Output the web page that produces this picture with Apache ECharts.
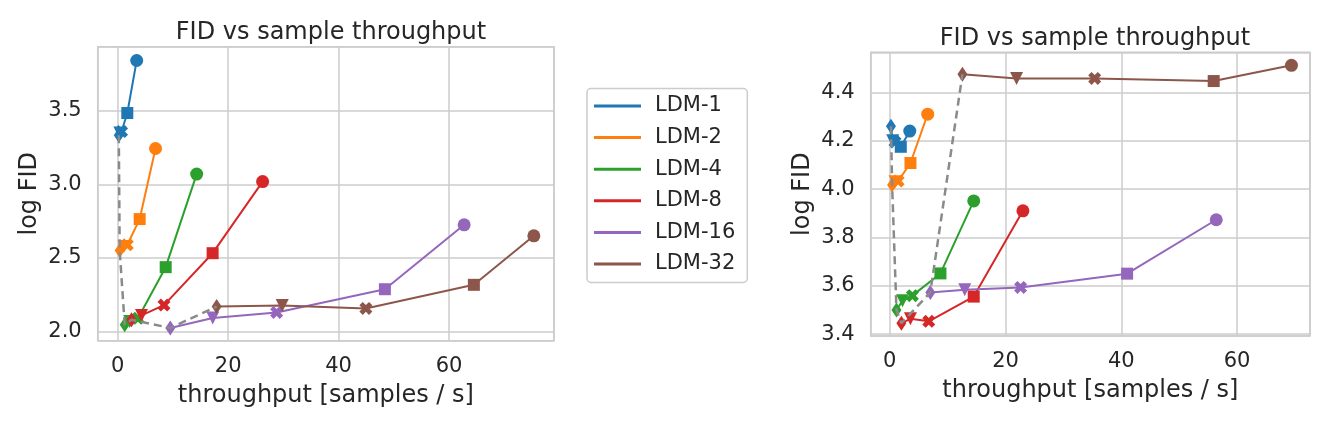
<!DOCTYPE html>
<html><head><meta charset="utf-8">
<script src="https://cdn.jsdelivr.net/npm/echarts@6/dist/echarts.min.js"></script>
<style>html,body{margin:0;padding:0;background:#fff}#c{width:1340px;height:427px}</style>
</head><body><div id="c"></div>
<script>
// ---- data ----
const modelNames = ['LDM-1','LDM-2','LDM-4','LDM-8','LDM-16','LDM-32'];
const modelColors = ['#1f77b4','#ff7f0e','#2ca02c','#d62728','#9467bd','#8c564b'];
// marker per sampling configuration (same order in every model's arrays)
const pointMarkers = ['circle','square','x','triangleDown','thinDiamond'];

// left panel: throughput [samples/s] and log FID per model
const leftThroughput = [
  [3.44, 1.74, 0.7, 0.4, 0.2],
  [6.85, 3.98, 1.74, 1.14, 0.36],
  [14.3, 8.69, 3.67, 2.17, 1.27],
  [26.24, 17.19, 8.38, 4.31, 2.5],
  [62.73, 48.38, 28.78, 17.21, 9.52],
  [75.35, 64.49, 44.94, 29.79, 17.92]
];
const leftLogFid = [
  [3.843, 3.486, 3.36, 3.35, 3.335],
  [3.245, 2.765, 2.59, 2.578, 2.551],
  [3.071, 2.438, 2.09, 2.068, 2.046],
  [3.02, 2.533, 2.18, 2.11, 2.08],
  [2.726, 2.288, 2.13, 2.093, 2.025],
  [2.651, 2.318, 2.157, 2.177, 2.17]
];

// right panel
const rightThroughput = [
  [3.45, 1.9, 0.9, 0.5, 0.2],
  [6.55, 3.57, 1.44, 0.9, 0.4],
  [14.5, 8.75, 3.9, 2.2, 1.15],
  [23.0, 14.5, 6.73, 3.57, 2.0],
  [56.4, 41.0, 22.6, 12.95, 7.0],
  [69.4, 55.96, 35.4, 21.9, 12.55]
];
const rightLogFid = [
  [4.24, 4.175, 4.195, 4.2, 4.26],
  [4.31, 4.108, 4.033, 4.03, 4.017],
  [3.951, 3.651, 3.559, 3.538, 3.5],
  [3.91, 3.555, 3.453, 3.463, 3.445],
  [3.873, 3.65, 3.593, 3.583, 3.572],
  [4.512, 4.447, 4.458, 4.458, 4.475]
];

const chartTitle = 'FID vs sample throughput';
const xAxisName = 'throughput [samples / s]';
const yAxisName = 'log FID';

// ---- styling ----
const symbolDefs = {
  circle: {symbol: 'circle', size: 13},
  square: {symbol: 'rect', size: 12},
  x: {symbol: 'path://M0,2.6 L2.6,0 L5,2.4 L7.4,0 L10,2.6 L7.6,5 L10,7.4 L7.4,10 L5,7.6 L2.6,10 L0,7.4 L2.4,5 Z', size: 13},
  triangleDown: {symbol: 'path://M0,0 L10,0 L5,10 Z', size: 13},
  thinDiamond: {symbol: 'diamond', size: [10, 15]}
};
const TXT = '#262626', GRID = '#cccccc', FONT = 'DejaVu Sans';

function isMult(v, step) { return Math.abs(v / step - Math.round(v / step)) < 1e-6; }

const series = [];
function buildPanel(xs, ys, gi) {
  modelNames.forEach((n, i) => {
    series.push({
      name: n, type: 'line', xAxisIndex: gi, yAxisIndex: gi,
      color: modelColors[i],
      lineStyle: {width: 2, color: modelColors[i]},
      itemStyle: {color: modelColors[i], borderWidth: 0},
      data: xs[i].map((x, j) => {
        const d = symbolDefs[pointMarkers[j]];
        return {value: [x, ys[i][j]], symbol: d.symbol, symbolSize: d.size};
      }),
      showSymbol: true, z: 3, silent: true
    });
  });
  series.push({
    type: 'line', name: 'best', xAxisIndex: gi, yAxisIndex: gi,
    data: xs.map((a, i) => [a[a.length - 1], ys[i][ys[i].length - 1]]),
    lineStyle: {type: [8, 5], color: '#8a8a8a', width: 2.5},
    symbol: 'none', z: 4, silent: true
  });
}
buildPanel(leftThroughput, leftLogFid, 0);
buildPanel(rightThroughput, rightLogFid, 1);

function xAxisDef(gi, min, max) {
  return {
    type: 'value', gridIndex: gi, min: min, max: max,
    minInterval: 20, maxInterval: 20,
    axisLine: {show: false}, axisTick: {show: false},
    splitLine: {show: true, lineStyle: {color: GRID, width: 1.5}},
    axisLabel: {color: TXT, fontSize: 21, fontFamily: FONT, margin: 15,
      formatter: v => isMult(v, 20) ? String(Math.round(v)) : ''},
    name: xAxisName, nameLocation: 'middle', nameGap: 43,
    nameTextStyle: {color: TXT, fontSize: 24, fontFamily: FONT}
  };
}
function yAxisDef(gi, min, max, step) {
  return {
    type: 'value', gridIndex: gi, min: min, max: max,
    minInterval: step, maxInterval: step,
    axisLine: {show: false}, axisTick: {show: false},
    splitLine: {show: true, lineStyle: {color: GRID, width: 1.5}},
    axisLabel: {color: TXT, fontSize: 21, fontFamily: FONT, margin: 16,
      formatter: v => isMult(v, step) ? v.toFixed(1) : ''},
    name: yAxisName, nameLocation: 'middle', nameGap: 56,
    nameTextStyle: {color: TXT, fontSize: 24, fontFamily: FONT}
  };
}

const chart = echarts.init(document.getElementById('c'), null, {renderer: 'canvas'});
chart.setOption({
  animation: false,
  backgroundColor: '#ffffff',
  title: [
    {text: chartTitle, left: 326, top: 16, textAlign: 'center',
     textStyle: {color: TXT, fontSize: 24, fontWeight: 'normal', fontFamily: FONT}},
    {text: chartTitle, left: 1090, top: 21.5, textAlign: 'center',
     textStyle: {color: TXT, fontSize: 24, fontWeight: 'normal', fontFamily: FONT}}
  ],
  legend: {
    data: modelNames.map(n => ({name: n, icon: 'rect'})),
    orient: 'vertical', left: 587, top: 88.5,
    itemWidth: 47, itemHeight: 3, itemGap: 10.6,
    padding: [7, 12, 8, 7],
    borderColor: GRID, borderWidth: 1.5, borderRadius: 4,
    textStyle: {color: TXT, fontSize: 21, fontFamily: FONT, padding: [0, 0, 0, 9]},
    selectedMode: false
  },
  grid: [
    {left: 97.7, top: 46.7, width: 456.3, height: 294, show: true,
     borderColor: GRID, borderWidth: 1.5, backgroundColor: 'transparent', containLabel: false},
    {left: 870.7, top: 52.3, width: 439.3, height: 283.7, show: true,
     borderColor: GRID, borderWidth: 1.5, backgroundColor: 'transparent', containLabel: false}
  ],
  xAxis: [xAxisDef(0, -3.62, 79.0), xAxisDef(1, -3.3, 72.6)],
  yAxis: [yAxisDef(0, 1.938, 3.937, 0.5), yAxisDef(1, 3.392, 4.566, 0.2)],
  series: series
});
</script>
</body></html>
